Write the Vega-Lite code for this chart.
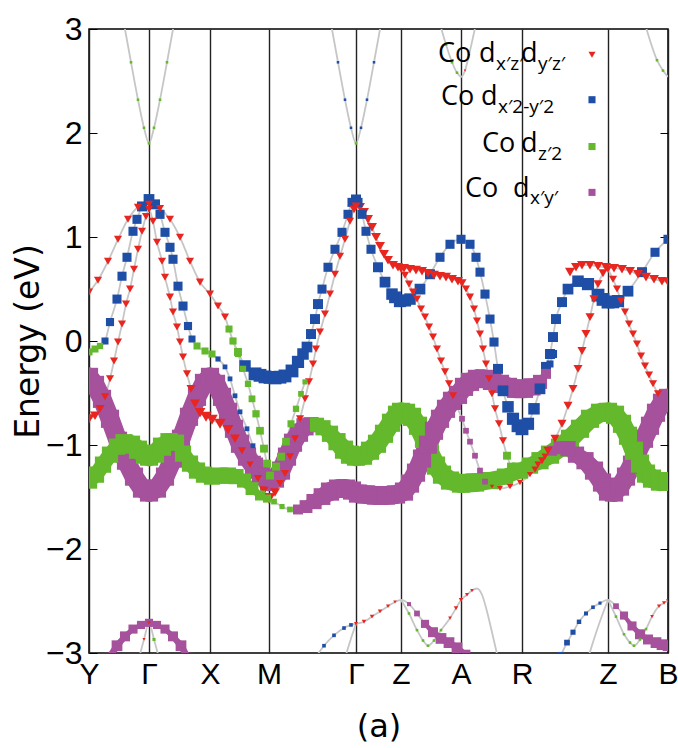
{
"$schema":"https://vega.github.io/schema/vega-lite/v6.json",
"width":579,"height":624,
"autosize":"none",
"padding":{"left":89,"top":29,"right":10,"bottom":95},
"background":"white",
"config":{"view":{"stroke":"#000","strokeWidth":1.5},"font":"DejaVu Sans"},
"datasets":{
"bands":[
{"c":1,"k":0,"E":0.47,"o":"r","w":0.2},{"c":1,"k":9,"E":0.585,"o":"r","w":0.2},{"c":1,"k":19,"E":0.767,"o":"r","w":0.2},{"c":1,"k":29,"E":0.978,"o":"r","w":0.2},{"c":1,"k":39,"E":1.17,"o":"r","w":0.2},{"c":1,"k":49,"E":1.285,"o":"r","w":0.2},{"c":1,"k":60,"E":1.314,"o":"r","w":0.2},{"c":1,"k":71,"E":1.275,"o":"r","w":0.2},{"c":1,"k":81,"E":1.17,"o":"r","w":0.2},{"c":1,"k":91,"E":0.997,"o":"r","w":0.2},{"c":1,"k":101,"E":0.767,"o":"r","w":0.2},{"c":1,"k":111,"E":0.566,"o":"r","w":0.2},{"c":1,"k":121,"E":0.451,"o":"r","w":0.2},{"c":1,"k":129,"E":0.336,"o":"r","w":0.2},{"c":1,"k":136,"E":0.23,"o":"r","w":0.2},{"c":1,"k":140,"E":0.115,"o":"g","w":0.15},{"c":1,"k":144,"E":0,"o":"g","w":0.15},{"c":1,"k":149,"E":-0.105,"o":"g","w":0.19},{"c":1,"k":156,"E":-0.24,"o":"b","w":0.4},{"c":1,"k":166,"E":-0.316,"o":"b","w":0.5},{"c":1,"k":171,"E":-0.33,"o":"b","w":0.5},{"c":1,"k":176,"E":-0.345,"o":"b","w":0.5},{"c":1,"k":181,"E":-0.35,"o":"b","w":0.5},{"c":1,"k":186,"E":-0.355,"o":"b","w":0.5},{"c":1,"k":191,"E":-0.348,"o":"b","w":0.5},{"c":1,"k":196,"E":-0.336,"o":"b","w":0.5},{"c":1,"k":203,"E":-0.288,"o":"b","w":0.5},{"c":1,"k":209,"E":-0.201,"o":"b","w":0.45},{"c":1,"k":214,"E":-0.125,"o":"b","w":0.4},{"c":1,"k":218,"E":-0.058,"o":"b","w":0.35},{"c":1,"k":222,"E":0.067,"o":"b","w":0.3},{"c":1,"k":226,"E":0.211,"o":"b","w":0.3},{"c":1,"k":229,"E":0.355,"o":"b","w":0.3},{"c":1,"k":233,"E":0.499,"o":"b","w":0.25},{"c":1,"k":239,"E":0.709,"o":"b","w":0.25},{"c":1,"k":246,"E":0.882,"o":"b","w":0.25},{"c":1,"k":253,"E":1.045,"o":"b","w":0.25},{"c":1,"k":259,"E":1.218,"o":"b","w":0.25},{"c":1,"k":263,"E":1.333,"o":"b","w":0.25},{"c":1,"k":267,"E":1.361,"o":"b","w":0.3},{"c":1,"k":269,"E":1.333,"o":"b","w":0.25},{"c":1,"k":273,"E":1.218,"o":"b","w":0.25},{"c":1,"k":277,"E":1.055,"o":"b","w":0.25},{"c":1,"k":282,"E":0.882,"o":"b","w":0.25},{"c":1,"k":289,"E":0.709,"o":"b","w":0.3},{"c":1,"k":296,"E":0.566,"o":"b","w":0.35},{"c":1,"k":303,"E":0.451,"o":"b","w":0.4},{"c":1,"k":306,"E":0.42,"o":"b","w":0.42},{"c":1,"k":311,"E":0.384,"o":"b","w":0.45},{"c":1,"k":316,"E":0.39,"o":"b","w":0.45},{"c":1,"k":321,"E":0.403,"o":"b","w":0.4},{"c":1,"k":331,"E":0.499,"o":"b","w":0.35},{"c":1,"k":341,"E":0.642,"o":"b","w":0.3},{"c":1,"k":351,"E":0.805,"o":"b","w":0.25},{"c":1,"k":361,"E":0.93,"o":"b","w":0.25},{"c":1,"k":372,"E":0.978,"o":"b","w":0.25},{"c":1,"k":381,"E":0.93,"o":"b","w":0.25},{"c":1,"k":387,"E":0.805,"o":"b","w":0.25},{"c":1,"k":391,"E":0.662,"o":"b","w":0.25},{"c":1,"k":396,"E":0.451,"o":"b","w":0.25},{"c":1,"k":401,"E":0.211,"o":"b","w":0.25},{"c":1,"k":405,"E":-0.01,"o":"b","w":0.25},{"c":1,"k":409,"E":-0.268,"o":"b","w":0.3},{"c":1,"k":414,"E":-0.479,"o":"b","w":0.35},{"c":1,"k":419,"E":-0.633,"o":"b","w":0.4},{"c":1,"k":424,"E":-0.748,"o":"b","w":0.45},{"c":1,"k":429,"E":-0.815,"o":"b","w":0.5},{"c":1,"k":433,"E":-0.844,"o":"b","w":0.5},{"c":1,"k":439,"E":-0.796,"o":"b","w":0.45},{"c":1,"k":445,"E":-0.652,"o":"b","w":0.4},{"c":1,"k":451,"E":-0.46,"o":"b","w":0.35},{"c":1,"k":457,"E":-0.249,"o":"b","w":0.3},{"c":1,"k":461,"E":-0.125,"o":"b","w":0.3},{"c":1,"k":464,"E":0.038,"o":"b","w":0.3},{"c":1,"k":467,"E":0.211,"o":"b","w":0.3},{"c":1,"k":473,"E":0.374,"o":"b","w":0.3},{"c":1,"k":479,"E":0.499,"o":"b","w":0.35},{"c":1,"k":489,"E":0.575,"o":"b","w":0.4},{"c":1,"k":499,"E":0.547,"o":"b","w":0.45},{"c":1,"k":509,"E":0.441,"o":"b","w":0.5},{"c":1,"k":514,"E":0.4,"o":"b","w":0.5},{"c":1,"k":519,"E":0.374,"o":"b","w":0.5},{"c":1,"k":524,"E":0.375,"o":"b","w":0.48},{"c":1,"k":529,"E":0.384,"o":"b","w":0.45},{"c":1,"k":539,"E":0.479,"o":"b","w":0.35},{"c":1,"k":553,"E":0.662,"o":"b","w":0.3},{"c":1,"k":566,"E":0.853,"o":"b","w":0.25},{"c":1,"k":579,"E":0.978,"o":"b","w":0.25},
{"c":2,"k":0,"E":-0.105,"o":"g","w":0.15},{"c":2,"k":6,"E":-0.077,"o":"g","w":0.15},{"c":2,"k":11,"E":-0.048,"o":"g","w":0.12},{"c":2,"k":16,"E":0,"o":"b","w":0.15},{"c":2,"k":21,"E":0.182,"o":"b","w":0.2},{"c":2,"k":28,"E":0.403,"o":"b","w":0.25},{"c":2,"k":33,"E":0.623,"o":"b","w":0.25},{"c":2,"k":38,"E":0.805,"o":"b","w":0.25},{"c":2,"k":44,"E":1.055,"o":"b","w":0.25},{"c":2,"k":48,"E":1.17,"o":"b","w":0.25},{"c":2,"k":53,"E":1.294,"o":"b","w":0.3},{"c":2,"k":60,"E":1.361,"o":"b","w":0.35},{"c":2,"k":66,"E":1.314,"o":"b","w":0.3},{"c":2,"k":71,"E":1.218,"o":"b","w":0.25},{"c":2,"k":76,"E":1.045,"o":"b","w":0.25},{"c":2,"k":81,"E":0.901,"o":"b","w":0.25},{"c":2,"k":84,"E":0.786,"o":"b","w":0.25},{"c":2,"k":89,"E":0.527,"o":"b","w":0.25},{"c":2,"k":94,"E":0.336,"o":"b","w":0.25},{"c":2,"k":99,"E":0.144,"o":"b","w":0.2},{"c":2,"k":103,"E":0.019,"o":"b","w":0.15},{"c":2,"k":108,"E":-0.048,"o":"g","w":0.15},{"c":2,"k":116,"E":-0.096,"o":"g","w":0.15},{"c":2,"k":123,"E":-0.125,"o":"g","w":0.15},{"c":2,"k":129,"E":-0.173,"o":"b","w":0.08},{"c":2,"k":136,"E":-0.249,"o":"b","w":0.07},{"c":2,"k":141,"E":-0.364,"o":"b","w":0.07},{"c":2,"k":146,"E":-0.527,"o":"b","w":0.07},{"c":2,"k":151,"E":-0.681,"o":"b","w":0.07},{"c":2,"k":158,"E":-0.844,"o":"b","w":0.07},{"c":2,"k":164,"E":-1.007,"o":"b","w":0.07},{"c":2,"k":169,"E":-1.131,"o":"p","w":0.1},{"c":2,"k":174,"E":-1.246,"o":"p","w":0.12},{"c":2,"k":180,"E":-1.371,"o":"p","w":0.12},
{"c":3,"k":144,"E":0,"o":"g","w":0.12},{"c":3,"k":149,"E":-0.125,"o":"g","w":0.12},{"c":3,"k":154,"E":-0.268,"o":"g","w":0.12},{"c":3,"k":159,"E":-0.412,"o":"g","w":0.12},{"c":3,"k":163,"E":-0.556,"o":"g","w":0.14},{"c":3,"k":167,"E":-0.7,"o":"g","w":0.16},{"c":3,"k":171,"E":-0.863,"o":"g","w":0.18},{"c":3,"k":175,"E":-1.035,"o":"g","w":0.19},{"c":3,"k":178,"E":-1.179,"o":"g","w":0.19},{"c":3,"k":181,"E":-1.294,"o":"g","w":0.19},{"c":3,"k":187,"E":-1.208,"o":"g","w":0.19},{"c":3,"k":192,"E":-1.112,"o":"g","w":0.19},{"c":3,"k":197,"E":-0.968,"o":"g","w":0.18},{"c":3,"k":202,"E":-0.796,"o":"g","w":0.15},{"c":3,"k":207,"E":-0.652,"o":"g","w":0.12},{"c":3,"k":212,"E":-0.508,"o":"g","w":0.1},{"c":3,"k":216,"E":-0.393,"o":"g","w":0.08},
{"c":4,"k":0,"E":-0.748,"o":"r","w":0.35},{"c":4,"k":6,"E":-0.719,"o":"r","w":0.3},{"c":4,"k":11,"E":-0.652,"o":"r","w":0.25},{"c":4,"k":16,"E":-0.537,"o":"r","w":0.2},{"c":4,"k":21,"E":-0.364,"o":"r","w":0.2},{"c":4,"k":25,"E":-0.192,"o":"r","w":0.2},{"c":4,"k":29,"E":-0.01,"o":"r","w":0.2},{"c":4,"k":33,"E":0.163,"o":"r","w":0.2},{"c":4,"k":37,"E":0.355,"o":"r","w":0.2},{"c":4,"k":41,"E":0.499,"o":"r","w":0.2},{"c":4,"k":45,"E":0.69,"o":"r","w":0.2},{"c":4,"k":49,"E":0.882,"o":"r","w":0.2},{"c":4,"k":53,"E":1.055,"o":"r","w":0.2},{"c":4,"k":57,"E":1.198,"o":"r","w":0.2},{"c":4,"k":60,"E":1.266,"o":"r","w":0.2},{"c":4,"k":64,"E":1.151,"o":"r","w":0.2},{"c":4,"k":68,"E":0.949,"o":"r","w":0.2},{"c":4,"k":73,"E":0.767,"o":"r","w":0.2},{"c":4,"k":76,"E":0.614,"o":"r","w":0.2},{"c":4,"k":81,"E":0.422,"o":"r","w":0.2},{"c":4,"k":84,"E":0.278,"o":"r","w":0.2},{"c":4,"k":88,"E":0.134,"o":"r","w":0.2},{"c":4,"k":91,"E":-0.01,"o":"r","w":0.2},{"c":4,"k":94,"E":-0.153,"o":"r","w":0.2},{"c":4,"k":98,"E":-0.316,"o":"r","w":0.2},{"c":4,"k":102,"E":-0.46,"o":"r","w":0.25},{"c":4,"k":106,"E":-0.604,"o":"r","w":0.3},{"c":4,"k":111,"E":-0.69,"o":"r","w":0.35},{"c":4,"k":117,"E":-0.729,"o":"r","w":0.4},{"c":4,"k":123,"E":-0.757,"o":"r","w":0.4},{"c":4,"k":131,"E":-0.796,"o":"r","w":0.4},{"c":4,"k":139,"E":-0.853,"o":"r","w":0.35},{"c":4,"k":146,"E":-0.94,"o":"r","w":0.3},{"c":4,"k":153,"E":-1.055,"o":"r","w":0.2},{"c":4,"k":161,"E":-1.189,"o":"r","w":0.15},{"c":4,"k":169,"E":-1.323,"o":"r","w":0.2},{"c":4,"k":175,"E":-1.438,"o":"r","w":0.3},{"c":4,"k":180,"E":-1.515,"o":"r","w":0.45},
{"c":5,"k":180,"E":-1.515,"o":"r","w":0.45},{"c":5,"k":186,"E":-1.457,"o":"r","w":0.3},{"c":5,"k":191,"E":-1.371,"o":"r","w":0.2},{"c":5,"k":196,"E":-1.275,"o":"r","w":0.2},{"c":5,"k":201,"E":-1.112,"o":"r","w":0.2},{"c":5,"k":206,"E":-0.94,"o":"r","w":0.2},{"c":5,"k":211,"E":-0.748,"o":"r","w":0.2},{"c":5,"k":216,"E":-0.556,"o":"r","w":0.2},{"c":5,"k":220,"E":-0.393,"o":"r","w":0.2},{"c":5,"k":224,"E":-0.221,"o":"r","w":0.2},{"c":5,"k":227,"E":-0.077,"o":"r","w":0.2},{"c":5,"k":231,"E":0.086,"o":"r","w":0.2},{"c":5,"k":236,"E":0.259,"o":"r","w":0.2},{"c":5,"k":241,"E":0.451,"o":"r","w":0.2},{"c":5,"k":246,"E":0.642,"o":"r","w":0.2},{"c":5,"k":251,"E":0.815,"o":"r","w":0.2},{"c":5,"k":256,"E":0.978,"o":"r","w":0.2},{"c":5,"k":261,"E":1.151,"o":"r","w":0.2},{"c":5,"k":265,"E":1.266,"o":"r","w":0.25},{"c":5,"k":267,"E":1.294,"o":"r","w":0.25},{"c":5,"k":271,"E":1.285,"o":"r","w":0.3},{"c":5,"k":275,"E":1.237,"o":"r","w":0.3},{"c":5,"k":279,"E":1.17,"o":"r","w":0.3},{"c":5,"k":283,"E":1.093,"o":"r","w":0.3},{"c":5,"k":287,"E":0.997,"o":"r","w":0.3},{"c":5,"k":291,"E":0.911,"o":"r","w":0.3},{"c":5,"k":295,"E":0.834,"o":"r","w":0.3},{"c":5,"k":299,"E":0.777,"o":"r","w":0.3},{"c":5,"k":304,"E":0.729,"o":"r","w":0.3},{"c":5,"k":309,"E":0.709,"o":"r","w":0.3},{"c":5,"k":315,"E":0.7,"o":"r","w":0.3},{"c":5,"k":321,"E":0.69,"o":"r","w":0.3},{"c":5,"k":327,"E":0.681,"o":"r","w":0.3},{"c":5,"k":333,"E":0.671,"o":"r","w":0.3},{"c":5,"k":339,"E":0.652,"o":"r","w":0.3},{"c":5,"k":345,"E":0.633,"o":"r","w":0.3},{"c":5,"k":351,"E":0.623,"o":"r","w":0.3},{"c":5,"k":357,"E":0.614,"o":"r","w":0.3},{"c":5,"k":363,"E":0.594,"o":"r","w":0.3},{"c":5,"k":369,"E":0.575,"o":"r","w":0.3},{"c":5,"k":373,"E":0.556,"o":"r","w":0.25},{"c":5,"k":377,"E":0.499,"o":"r","w":0.2},{"c":5,"k":381,"E":0.422,"o":"r","w":0.2},{"c":5,"k":385,"E":0.307,"o":"r","w":0.2},{"c":5,"k":388,"E":0.192,"o":"r","w":0.2},{"c":5,"k":391,"E":0.067,"o":"r","w":0.2},{"c":5,"k":394,"E":-0.077,"o":"r","w":0.2},{"c":5,"k":397,"E":-0.221,"o":"r","w":0.2},{"c":5,"k":400,"E":-0.364,"o":"r","w":0.2},{"c":5,"k":403,"E":-0.508,"o":"r","w":0.2},{"c":5,"k":406,"E":-0.652,"o":"r","w":0.2},{"c":5,"k":410,"E":-0.796,"o":"r","w":0.2},{"c":5,"k":414,"E":-0.959,"o":"r","w":0.2},{"c":5,"k":418,"E":-1.103,"o":"g","w":0.19},{"c":5,"k":422,"E":-1.208,"o":"g","w":0.19},
{"c":6,"k":312,"E":0.69,"o":"r","w":0.2},{"c":6,"k":316,"E":0.633,"o":"r","w":0.2},{"c":6,"k":320,"E":0.547,"o":"r","w":0.2},{"c":6,"k":324,"E":0.47,"o":"r","w":0.2},{"c":6,"k":328,"E":0.403,"o":"r","w":0.2},{"c":6,"k":332,"E":0.307,"o":"r","w":0.2},{"c":6,"k":336,"E":0.23,"o":"r","w":0.2},{"c":6,"k":340,"E":0.134,"o":"r","w":0.2},{"c":6,"k":344,"E":0.038,"o":"r","w":0.2},{"c":6,"k":348,"E":-0.077,"o":"r","w":0.2},{"c":6,"k":352,"E":-0.192,"o":"r","w":0.2},{"c":6,"k":356,"E":-0.297,"o":"r","w":0.2},{"c":6,"k":360,"E":-0.412,"o":"r","w":0.2},{"c":6,"k":364,"E":-0.527,"o":"r","w":0.2},{"c":6,"k":368,"E":-0.633,"o":"p","w":0.1},{"c":6,"k":373,"E":-0.748,"o":"p","w":0.1},{"c":6,"k":377,"E":-0.863,"o":"p","w":0.1},{"c":6,"k":381,"E":-0.968,"o":"p","w":0.1},{"c":6,"k":386,"E":-1.103,"o":"p","w":0.1},{"c":6,"k":391,"E":-1.246,"o":"p","w":0.1},{"c":6,"k":396,"E":-1.352,"o":"p","w":0.1},{"c":6,"k":403,"E":-1.4,"o":"r","w":0.06},{"c":6,"k":411,"E":-1.419,"o":"r","w":0.1},{"c":6,"k":421,"E":-1.4,"o":"r","w":0.12},{"c":6,"k":431,"E":-1.361,"o":"r","w":0.12},{"c":6,"k":441,"E":-1.285,"o":"r","w":0.12},{"c":6,"k":449,"E":-1.189,"o":"r","w":0.15},{"c":6,"k":456,"E":-1.112,"o":"r","w":0.15},{"c":6,"k":463,"E":-1.055,"o":"p","w":0.3},{"c":6,"k":471,"E":-1.026,"o":"p","w":0.5},{"c":6,"k":479,"E":-1.035,"o":"p","w":0.7},{"c":6,"k":487,"E":-1.093,"o":"p","w":0.8},{"c":6,"k":496,"E":-1.151,"o":"p","w":0.9},{"c":6,"k":505,"E":-1.246,"o":"p","w":1},{"c":6,"k":513,"E":-1.361,"o":"p","w":1},{"c":6,"k":519,"E":-1.448,"o":"p","w":1},{"c":6,"k":525,"E":-1.457,"o":"p","w":1},{"c":6,"k":531,"E":-1.4,"o":"p","w":1},{"c":6,"k":537,"E":-1.304,"o":"p","w":1},{"c":6,"k":543,"E":-1.189,"o":"p","w":1},{"c":6,"k":549,"E":-1.055,"o":"p","w":1},{"c":6,"k":555,"E":-0.94,"o":"p","w":1},{"c":6,"k":561,"E":-0.815,"o":"p","w":1},{"c":6,"k":567,"E":-0.69,"o":"p","w":1},{"c":6,"k":573,"E":-0.594,"o":"p","w":1},{"c":6,"k":579,"E":-0.547,"o":"p","w":1},
{"c":7,"k":446,"E":-1.237,"o":"r","w":0.15},{"c":7,"k":453,"E":-1.151,"o":"r","w":0.2},{"c":7,"k":459,"E":-1.055,"o":"r","w":0.25},{"c":7,"k":466,"E":-0.94,"o":"r","w":0.25},{"c":7,"k":473,"E":-0.796,"o":"r","w":0.25},{"c":7,"k":479,"E":-0.623,"o":"r","w":0.25},{"c":7,"k":484,"E":-0.46,"o":"r","w":0.25},{"c":7,"k":489,"E":-0.268,"o":"r","w":0.25},{"c":7,"k":493,"E":-0.096,"o":"r","w":0.25},{"c":7,"k":497,"E":0.067,"o":"r","w":0.25},{"c":7,"k":501,"E":0.23,"o":"r","w":0.25},{"c":7,"k":505,"E":0.403,"o":"r","w":0.25},{"c":7,"k":509,"E":0.547,"o":"r","w":0.25},{"c":7,"k":514,"E":0.652,"o":"r","w":0.25},
{"c":8,"k":481,"E":0.662,"o":"r","w":0.3},{"c":8,"k":487,"E":0.709,"o":"r","w":0.3},{"c":8,"k":493,"E":0.729,"o":"r","w":0.3},{"c":8,"k":501,"E":0.729,"o":"r","w":0.3},{"c":8,"k":509,"E":0.719,"o":"r","w":0.3},{"c":8,"k":517,"E":0.709,"o":"r","w":0.3},{"c":8,"k":525,"E":0.7,"o":"r","w":0.3},{"c":8,"k":533,"E":0.69,"o":"r","w":0.3},{"c":8,"k":541,"E":0.671,"o":"r","w":0.3},{"c":8,"k":549,"E":0.642,"o":"r","w":0.3},{"c":8,"k":557,"E":0.614,"o":"r","w":0.3},{"c":8,"k":565,"E":0.594,"o":"r","w":0.3},{"c":8,"k":573,"E":0.575,"o":"r","w":0.3},{"c":8,"k":579,"E":0.566,"o":"r","w":0.3},
{"c":9,"k":519,"E":0.69,"o":"r","w":0.2},{"c":9,"k":524,"E":0.594,"o":"r","w":0.2},{"c":9,"k":528,"E":0.499,"o":"r","w":0.2},{"c":9,"k":532,"E":0.384,"o":"r","w":0.2},{"c":9,"k":536,"E":0.278,"o":"r","w":0.2},{"c":9,"k":540,"E":0.163,"o":"r","w":0.2},{"c":9,"k":544,"E":0.067,"o":"r","w":0.2},{"c":9,"k":548,"E":-0.029,"o":"r","w":0.2},{"c":9,"k":552,"E":-0.144,"o":"r","w":0.2},{"c":9,"k":556,"E":-0.24,"o":"r","w":0.2},{"c":9,"k":560,"E":-0.326,"o":"r","w":0.2},{"c":9,"k":564,"E":-0.412,"o":"r","w":0.2},{"c":9,"k":569,"E":-0.508,"o":"r","w":0.2},
{"c":10,"k":0,"E":-0.345,"o":"p","w":1},{"c":10,"k":6,"E":-0.422,"o":"p","w":1},{"c":10,"k":13,"E":-0.556,"o":"p","w":1},{"c":10,"k":21,"E":-0.748,"o":"p","w":1},{"c":10,"k":29,"E":-0.959,"o":"p","w":1},{"c":10,"k":37,"E":-1.151,"o":"p","w":1},{"c":10,"k":45,"E":-1.304,"o":"p","w":1},{"c":10,"k":53,"E":-1.419,"o":"p","w":1},{"c":10,"k":60,"E":-1.457,"o":"p","w":1},{"c":10,"k":68,"E":-1.419,"o":"p","w":1},{"c":10,"k":76,"E":-1.304,"o":"p","w":1},{"c":10,"k":84,"E":-1.131,"o":"p","w":1},{"c":10,"k":92,"E":-0.94,"o":"p","w":1},{"c":10,"k":100,"E":-0.729,"o":"p","w":1},{"c":10,"k":108,"E":-0.537,"o":"p","w":1},{"c":10,"k":115,"E":-0.403,"o":"p","w":1},{"c":10,"k":121,"E":-0.345,"o":"p","w":1},{"c":10,"k":127,"E":-0.412,"o":"p","w":1},{"c":10,"k":133,"E":-0.537,"o":"p","w":1},{"c":10,"k":139,"E":-0.681,"o":"p","w":1},{"c":10,"k":145,"E":-0.844,"o":"p","w":1},{"c":10,"k":151,"E":-0.988,"o":"p","w":1},{"c":10,"k":158,"E":-1.112,"o":"p","w":1},{"c":10,"k":165,"E":-1.208,"o":"p","w":1},{"c":10,"k":172,"E":-1.294,"o":"p","w":1},{"c":10,"k":180,"E":-1.352,"o":"p","w":1},{"c":10,"k":186,"E":-1.323,"o":"p","w":1},{"c":10,"k":192,"E":-1.246,"o":"p","w":1},{"c":10,"k":198,"E":-1.112,"o":"p","w":1},{"c":10,"k":204,"E":-0.978,"o":"p","w":1},{"c":10,"k":210,"E":-0.882,"o":"p","w":1},{"c":10,"k":216,"E":-0.825,"o":"p","w":0.9},{"c":10,"k":222,"E":-0.805,"o":"p","w":0.7},{"c":10,"k":228,"E":-0.805,"o":"g","w":0.6},{"c":10,"k":234,"E":-0.834,"o":"g","w":0.7},{"c":10,"k":241,"E":-0.892,"o":"g","w":0.8},{"c":10,"k":248,"E":-0.968,"o":"g","w":0.9},{"c":10,"k":255,"E":-1.045,"o":"g","w":1},{"c":10,"k":261,"E":-1.093,"o":"g","w":1},{"c":10,"k":267,"E":-1.112,"o":"g","w":1},{"c":10,"k":274,"E":-1.103,"o":"g","w":1},{"c":10,"k":281,"E":-1.055,"o":"g","w":1},{"c":10,"k":288,"E":-0.988,"o":"g","w":1},{"c":10,"k":295,"E":-0.892,"o":"g","w":1},{"c":10,"k":302,"E":-0.786,"o":"g","w":1},{"c":10,"k":308,"E":-0.709,"o":"g","w":1},{"c":10,"k":312,"E":-0.681,"o":"g","w":1},{"c":10,"k":317,"E":-0.69,"o":"g","w":1},{"c":10,"k":323,"E":-0.729,"o":"g","w":1},{"c":10,"k":329,"E":-0.815,"o":"g","w":1},{"c":10,"k":335,"E":-0.94,"o":"g","w":1},{"c":10,"k":341,"E":-1.083,"o":"g","w":1},{"c":10,"k":347,"E":-1.198,"o":"g","w":1},{"c":10,"k":353,"E":-1.285,"o":"g","w":1},{"c":10,"k":361,"E":-1.342,"o":"g","w":1},{"c":10,"k":372,"E":-1.371,"o":"g","w":1},{"c":10,"k":386,"E":-1.361,"o":"g","w":1},{"c":10,"k":401,"E":-1.342,"o":"g","w":0.9},{"c":10,"k":416,"E":-1.304,"o":"g","w":0.8},{"c":10,"k":431,"E":-1.246,"o":"g","w":0.8},{"c":10,"k":441,"E":-1.198,"o":"g","w":0.8},{"c":10,"k":451,"E":-1.151,"o":"g","w":0.9},{"c":10,"k":461,"E":-1.093,"o":"g","w":1},{"c":10,"k":471,"E":-1.026,"o":"g","w":1},{"c":10,"k":481,"E":-0.94,"o":"g","w":1},{"c":10,"k":491,"E":-0.844,"o":"g","w":1},{"c":10,"k":501,"E":-0.748,"o":"g","w":1},{"c":10,"k":511,"E":-0.69,"o":"g","w":1},{"c":10,"k":519,"E":-0.681,"o":"g","w":1},{"c":10,"k":526,"E":-0.709,"o":"g","w":1},{"c":10,"k":533,"E":-0.796,"o":"g","w":1},{"c":10,"k":539,"E":-0.911,"o":"g","w":1},{"c":10,"k":545,"E":-1.055,"o":"g","w":1},{"c":10,"k":551,"E":-1.179,"o":"g","w":1},{"c":10,"k":557,"E":-1.275,"o":"g","w":1},{"c":10,"k":563,"E":-1.323,"o":"g","w":1},{"c":10,"k":571,"E":-1.352,"o":"g","w":1},{"c":10,"k":579,"E":-1.352,"o":"g","w":1},
{"c":11,"k":0,"E":-1.342,"o":"g","w":0.8},{"c":11,"k":7,"E":-1.285,"o":"g","w":0.8},{"c":11,"k":14,"E":-1.189,"o":"g","w":0.8},{"c":11,"k":21,"E":-1.093,"o":"g","w":0.8},{"c":11,"k":28,"E":-1.016,"o":"g","w":0.8},{"c":11,"k":35,"E":-0.978,"o":"g","w":0.9},{"c":11,"k":42,"E":-0.997,"o":"g","w":1},{"c":11,"k":49,"E":-1.045,"o":"g","w":1},{"c":11,"k":56,"E":-1.093,"o":"g","w":1},{"c":11,"k":60,"E":-1.112,"o":"g","w":1},{"c":11,"k":66,"E":-1.083,"o":"g","w":1},{"c":11,"k":73,"E":-1.016,"o":"g","w":1},{"c":11,"k":80,"E":-0.968,"o":"g","w":0.9},{"c":11,"k":87,"E":-0.978,"o":"g","w":0.8},{"c":11,"k":94,"E":-1.083,"o":"g","w":0.8},{"c":11,"k":101,"E":-1.179,"o":"g","w":0.8},{"c":11,"k":108,"E":-1.246,"o":"g","w":0.8},{"c":11,"k":115,"E":-1.285,"o":"g","w":0.8},{"c":11,"k":123,"E":-1.304,"o":"g","w":0.8},{"c":11,"k":131,"E":-1.294,"o":"g","w":0.8},{"c":11,"k":139,"E":-1.294,"o":"g","w":0.8},{"c":11,"k":147,"E":-1.304,"o":"g","w":0.7},{"c":11,"k":155,"E":-1.342,"o":"g","w":0.6},{"c":11,"k":163,"E":-1.419,"o":"g","w":0.5},{"c":11,"k":171,"E":-1.486,"o":"g","w":0.3},{"c":11,"k":178,"E":-1.515,"o":"g","w":0.2},{"c":11,"k":185,"E":-1.544,"o":"g","w":0.1},{"c":11,"k":193,"E":-1.592,"o":"g","w":0.08},{"c":11,"k":201,"E":-1.62,"o":"g","w":0.1},{"c":11,"k":209,"E":-1.62,"o":"p","w":0.3},{"c":11,"k":217,"E":-1.592,"o":"p","w":0.5},{"c":11,"k":225,"E":-1.544,"o":"p","w":0.7},{"c":11,"k":233,"E":-1.496,"o":"p","w":0.85},{"c":11,"k":241,"E":-1.448,"o":"p","w":1},{"c":11,"k":249,"E":-1.419,"o":"p","w":1},{"c":11,"k":257,"E":-1.419,"o":"p","w":1},{"c":11,"k":263,"E":-1.438,"o":"p","w":1},{"c":11,"k":269,"E":-1.467,"o":"p","w":1},{"c":11,"k":277,"E":-1.476,"o":"p","w":1},{"c":11,"k":287,"E":-1.486,"o":"p","w":1},{"c":11,"k":297,"E":-1.486,"o":"p","w":1},{"c":11,"k":307,"E":-1.476,"o":"p","w":1},{"c":11,"k":315,"E":-1.448,"o":"p","w":1},{"c":11,"k":321,"E":-1.371,"o":"p","w":1},{"c":11,"k":327,"E":-1.266,"o":"p","w":1},{"c":11,"k":333,"E":-1.131,"o":"p","w":1},{"c":11,"k":339,"E":-0.997,"o":"p","w":1},{"c":11,"k":345,"E":-0.863,"o":"p","w":1},{"c":11,"k":351,"E":-0.748,"o":"p","w":1},{"c":11,"k":357,"E":-0.652,"o":"p","w":1},{"c":11,"k":363,"E":-0.575,"o":"p","w":1},{"c":11,"k":369,"E":-0.518,"o":"p","w":1},{"c":11,"k":375,"E":-0.441,"o":"p","w":1},{"c":11,"k":381,"E":-0.393,"o":"p","w":1},{"c":11,"k":388,"E":-0.364,"o":"p","w":1},{"c":11,"k":395,"E":-0.364,"o":"p","w":1},{"c":11,"k":403,"E":-0.384,"o":"p","w":1},{"c":11,"k":411,"E":-0.412,"o":"p","w":1},{"c":11,"k":419,"E":-0.441,"o":"p","w":1},{"c":11,"k":427,"E":-0.46,"o":"p","w":1},{"c":11,"k":435,"E":-0.46,"o":"p","w":1},{"c":11,"k":443,"E":-0.441,"o":"p","w":0.9},{"c":11,"k":451,"E":-0.393,"o":"p","w":0.6},{"c":11,"k":457,"E":-0.316,"o":"p","w":0.3},{"c":11,"k":461,"E":-0.221,"o":"b","w":0.15},{"c":11,"k":464,"E":-0.125,"o":"b","w":0.2},
{"c":12,"k":35,"E":3.05,"o":"n","w":0},{"c":12,"k":42,"E":2.68,"o":"g","w":0.02},{"c":12,"k":49,"E":2.32,"o":"g","w":0.02},{"c":12,"k":55,"E":2.05,"o":"g","w":0.02},{"c":12,"k":60,"E":1.9,"o":"g","w":0.02},{"c":12,"k":65,"E":2.05,"o":"g","w":0.02},{"c":12,"k":71,"E":2.32,"o":"g","w":0.02},{"c":12,"k":78,"E":2.68,"o":"g","w":0.02},{"c":12,"k":85,"E":3.05,"o":"n","w":0},
{"c":13,"k":242,"E":3.05,"o":"n","w":0},{"c":13,"k":249,"E":2.68,"o":"b","w":0.02},{"c":13,"k":256,"E":2.32,"o":"b","w":0.02},{"c":13,"k":262,"E":2.05,"o":"b","w":0.02},{"c":13,"k":267,"E":1.9,"o":"g","w":0.02},{"c":13,"k":272,"E":2.05,"o":"b","w":0.02},{"c":13,"k":278,"E":2.32,"o":"b","w":0.02},{"c":13,"k":285,"E":2.68,"o":"b","w":0.02},{"c":13,"k":292,"E":3.05,"o":"n","w":0},
{"c":14,"k":351,"E":3.05,"o":"n","w":0},{"c":14,"k":357,"E":2.85,"o":"g","w":0.02},{"c":14,"k":363,"E":2.68,"o":"g","w":0.02},{"c":14,"k":368,"E":2.58,"o":"g","w":0.02},{"c":14,"k":372,"E":2.54,"o":"n","w":0},{"c":14,"k":376,"E":2.6,"o":"r","w":0.02},{"c":14,"k":380,"E":2.75,"o":"r","w":0.02},{"c":14,"k":384,"E":2.92,"o":"n","w":0},{"c":14,"k":387,"E":3.05,"o":"n","w":0},
{"c":15,"k":556,"E":3.05,"o":"n","w":0},{"c":15,"k":562,"E":2.86,"o":"n","w":0},{"c":15,"k":568,"E":2.7,"o":"g","w":0.02},{"c":15,"k":574,"E":2.6,"o":"g","w":0.02},{"c":15,"k":579,"E":2.54,"o":"n","w":0},
{"c":16,"k":20,"E":-3.05,"o":"p","w":0.35},{"c":16,"k":28,"E":-2.93,"o":"p","w":0.35},{"c":16,"k":36,"E":-2.84,"o":"p","w":0.3},{"c":16,"k":44,"E":-2.77,"o":"p","w":0.25},{"c":16,"k":52,"E":-2.73,"o":"p","w":0.2},{"c":16,"k":60,"E":-2.71,"o":"p","w":0.2},{"c":16,"k":68,"E":-2.73,"o":"p","w":0.2},{"c":16,"k":76,"E":-2.77,"o":"p","w":0.25},{"c":16,"k":84,"E":-2.84,"o":"p","w":0.3},{"c":16,"k":92,"E":-2.93,"o":"p","w":0.35},{"c":16,"k":99,"E":-3.05,"o":"p","w":0.35},
{"c":17,"k":50,"E":-3.05,"o":"n","w":0},{"c":17,"k":55,"E":-2.87,"o":"r","w":0.03},{"c":17,"k":60,"E":-2.71,"o":"r","w":0.04},{"c":17,"k":65,"E":-2.87,"o":"g","w":0.03},{"c":17,"k":70,"E":-3.05,"o":"n","w":0},
{"c":18,"k":226,"E":-3.05,"o":"b","w":0.04},{"c":18,"k":235,"E":-2.93,"o":"b","w":0.04},{"c":18,"k":245,"E":-2.83,"o":"b","w":0.04},{"c":18,"k":255,"E":-2.76,"o":"b","w":0.04},{"c":18,"k":262,"E":-2.73,"o":"b","w":0.04},{"c":18,"k":267,"E":-2.72,"o":"r","w":0.05},{"c":18,"k":275,"E":-2.7,"o":"r","w":0.06},{"c":18,"k":283,"E":-2.65,"o":"r","w":0.06},{"c":18,"k":291,"E":-2.6,"o":"r","w":0.06},{"c":18,"k":299,"E":-2.55,"o":"r","w":0.05},{"c":18,"k":306,"E":-2.51,"o":"r","w":0.04},{"c":18,"k":312,"E":-2.49,"o":"n","w":0},{"c":18,"k":320,"E":-2.53,"o":"p","w":0.05},{"c":18,"k":328,"E":-2.62,"o":"p","w":0.1},{"c":18,"k":336,"E":-2.72,"o":"p","w":0.2},{"c":18,"k":344,"E":-2.8,"o":"p","w":0.3},{"c":18,"k":352,"E":-2.86,"o":"p","w":0.35},{"c":18,"k":360,"E":-2.9,"o":"p","w":0.35},{"c":18,"k":368,"E":-2.95,"o":"p","w":0.35},{"c":18,"k":376,"E":-3.02,"o":"p","w":0.35},
{"c":19,"k":256,"E":-3.05,"o":"n","w":0},{"c":19,"k":262,"E":-2.86,"o":"n","w":0},{"c":19,"k":267,"E":-2.72,"o":"n","w":0},
{"c":20,"k":312,"E":-2.49,"o":"n","w":0},{"c":20,"k":320,"E":-2.62,"o":"g","w":0.02},{"c":20,"k":328,"E":-2.78,"o":"g","w":0.02},{"c":20,"k":334,"E":-2.88,"o":"g","w":0.02},{"c":20,"k":339,"E":-2.93,"o":"g","w":0.02},{"c":20,"k":345,"E":-2.88,"o":"g","w":0.02},{"c":20,"k":352,"E":-2.78,"o":"g","w":0.02},{"c":20,"k":361,"E":-2.665,"o":"r","w":0.04},{"c":20,"k":367,"E":-2.57,"o":"r","w":0.06},{"c":20,"k":372,"E":-2.49,"o":"r","w":0.06},{"c":20,"k":378,"E":-2.44,"o":"r","w":0.05},{"c":20,"k":383,"E":-2.4,"o":"r","w":0.04},{"c":20,"k":388,"E":-2.38,"o":"n","w":0},{"c":20,"k":393,"E":-2.44,"o":"n","w":0},{"c":20,"k":398,"E":-2.6,"o":"n","w":0},{"c":20,"k":403,"E":-2.8,"o":"n","w":0},{"c":20,"k":409,"E":-3.05,"o":"n","w":0},
{"c":21,"k":472,"E":-3.02,"o":"b","w":0.12},{"c":21,"k":478,"E":-2.9,"o":"b","w":0.1},{"c":21,"k":484,"E":-2.8,"o":"b","w":0.08},{"c":21,"k":490,"E":-2.7,"o":"b","w":0.06},{"c":21,"k":497,"E":-2.62,"o":"b","w":0.05},{"c":21,"k":504,"E":-2.56,"o":"b","w":0.04},{"c":21,"k":511,"E":-2.52,"o":"b","w":0.03},{"c":21,"k":519,"E":-2.49,"o":"n","w":0},{"c":21,"k":527,"E":-2.55,"o":"p","w":0.1},{"c":21,"k":535,"E":-2.64,"o":"p","w":0.2},{"c":21,"k":543,"E":-2.74,"o":"p","w":0.25},{"c":21,"k":551,"E":-2.82,"o":"p","w":0.3},{"c":21,"k":559,"E":-2.87,"o":"p","w":0.3},{"c":21,"k":567,"E":-2.9,"o":"p","w":0.35},{"c":21,"k":573,"E":-2.92,"o":"p","w":0.35},{"c":21,"k":579,"E":-2.93,"o":"p","w":0.35},
{"c":22,"k":519,"E":-2.49,"o":"n","w":0},{"c":22,"k":527,"E":-2.65,"o":"g","w":0.02},{"c":22,"k":535,"E":-2.82,"o":"g","w":0.02},{"c":22,"k":541,"E":-2.9,"o":"g","w":0.02},{"c":22,"k":545,"E":-2.93,"o":"g","w":0.02},{"c":22,"k":551,"E":-2.87,"o":"g","w":0.02},{"c":22,"k":557,"E":-2.77,"o":"g","w":0.02},{"c":22,"k":563,"E":-2.65,"o":"r","w":0.04},{"c":22,"k":570,"E":-2.55,"o":"r","w":0.05},{"c":22,"k":575,"E":-2.52,"o":"r","w":0.05},{"c":22,"k":579,"E":-2.5,"o":"r","w":0.05},
{"c":23,"k":499,"E":-3.05,"o":"n","w":0},{"c":23,"k":509,"E":-2.75,"o":"n","w":0},{"c":23,"k":519,"E":-2.49,"o":"n","w":0}
],
"legMain":[
{"k":349,"E":2.685,"t":"Co"},{"k":390,"E":2.685,"t":"d"},{"k":432,"E":2.685,"t":"d"},
{"k":352,"E":2.272,"t":"Co"},{"k":392,"E":2.272,"t":"d"},
{"k":393,"E":1.822,"t":"Co"},{"k":432,"E":1.822,"t":"d"},
{"k":376,"E":1.381,"t":"Co"},{"k":424,"E":1.381,"t":"d"}
],
"legSub":[
{"k":407,"E":2.608,"t":"x′z′"},{"k":449,"E":2.608,"t":"y′z′"},
{"k":409,"E":2.196,"t":"x′2-y′2"},
{"k":449,"E":1.745,"t":"z′2"},
{"k":441,"E":1.314,"t":"x′y′"}
],
"legSym":[
{"k":503,"E":2.752,"o":"r"},{"k":503,"E":2.32,"o":"b"},{"k":503,"E":1.87,"o":"g"},{"k":503,"E":1.429,"o":"p"}
]
},
"resolve":{"scale":{"size":"independent"},"axis":{"y":"independent"}},
"layer":[
{
"data":{"name":"bands"},
"mark":{"type":"line","color":"#c6c6c6","strokeWidth":1.8,"interpolate":"monotone","clip":true},
"encoding":{
"x":{"field":"k","type":"quantitative","scale":{"domain":[0,579],"nice":false,"zero":false},
"axis":{"values":[0,60,121,180,267,312,372,433,519,579],
"labelExpr":"datum.value==0?'Y':datum.value==60?'Γ':datum.value==121?'X':datum.value==180?'M':datum.value==267?'Γ':datum.value==312?'Z':datum.value==372?'A':datum.value==433?'R':datum.value==519?'Z':'B'",
"ticks":false,"grid":true,"gridColor":"#222","gridWidth":1.4,"domain":false,
"labelFont":"Liberation Sans","labelFontSize":30,"labelColor":"#000","labelPadding":6,"labelFlush":false,"labelOverlap":false,"labelBound":false,
"title":"(a)","titleFont":"DejaVu Sans","titleFontSize":32,"titleFontWeight":"normal","titleColor":"#000","titlePadding":22}},
"y":{"field":"E","type":"quantitative","scale":{"domain":[-3,3],"nice":false,"zero":false},
"axis":{"orient":"left","values":[-3,-2,-1,0,1,2,3],"title":"Energy (eV)","titleFont":"DejaVu Sans","titleFontSize":33,"titleFontWeight":"normal","titleColor":"#000","titlePadding":0,
"labelFont":"Liberation Sans","labelFontSize":32,"labelColor":"#000","labelPadding":15,"tickSize":-8,"tickColor":"#000","domain":false,"grid":false,"labelFlush":false,"labelOverlap":false}},
"detail":{"field":"c","type":"nominal"}
}
},
{
"mark":{"type":"rule","strokeDash":[5,3],"color":"#000","strokeWidth":1},
"encoding":{
"y":{"datum":0,"type":"quantitative","axis":{"orient":"right","values":[-2,-1,1,2],"labels":false,"title":null,"tickSize":-8,"tickColor":"#000","domain":false,"grid":false}}
}
},
{
"data":{"name":"bands"},
"transform":[{"filter":"(datum.o=='g'||datum.o=='p') && datum.w>=0.2"}],
"mark":{"type":"trail","clip":true},
"encoding":{
"x":{"field":"k","type":"quantitative"},
"y":{"field":"E","type":"quantitative","axis":null},
"detail":{"field":"c","type":"nominal"},
"color":{"field":"o","type":"nominal","legend":null},
"size":{"field":"w","type":"quantitative","scale":{"domain":[0,1],"range":[0,19]},"legend":null}
}
},
{
"data":{"name":"bands"},
"transform":[{"filter":"datum.o!='n' && datum.w>=0.02"}],
"mark":{"type":"point","filled":true,"opacity":1,"strokeWidth":0,"clip":true},
"encoding":{
"x":{"field":"k","type":"quantitative"},
"y":{"field":"E","type":"quantitative","axis":null},
"color":{"field":"o","type":"nominal","scale":{"domain":["r","b","g","p"],"range":["#e8251f","#1f4ea6","#64b82c","#a5519c"]},"legend":null},
"shape":{"field":"o","type":"nominal","scale":{"domain":["r","b","g","p"],"range":["triangle-down","square","square","square"]},"legend":null},
"size":{"field":"w","type":"quantitative","scale":{"domain":[0,1],"range":[0,330]},"legend":null},
"order":{"field":"w","sort":"descending"}
}
},
{
"data":{"name":"legMain"},
"mark":{"type":"text","font":"Open Sans","fontSize":27,"align":"left","baseline":"alphabetic","color":"#000"},
"encoding":{
"x":{"field":"k","type":"quantitative"},
"y":{"field":"E","type":"quantitative","axis":null},
"text":{"field":"t"}
}
},
{
"data":{"name":"legSub"},
"mark":{"type":"text","font":"Open Sans","fontSize":19,"align":"left","baseline":"alphabetic","color":"#000"},
"encoding":{
"x":{"field":"k","type":"quantitative"},
"y":{"field":"E","type":"quantitative","axis":null},
"text":{"field":"t"}
}
},
{
"data":{"name":"legSym"},
"mark":{"type":"point","filled":true,"opacity":1,"size":50,"strokeWidth":0},
"encoding":{
"x":{"field":"k","type":"quantitative"},
"y":{"field":"E","type":"quantitative","axis":null},
"color":{"field":"o","type":"nominal","legend":null},
"shape":{"field":"o","type":"nominal","legend":null}
}
}
]
}
